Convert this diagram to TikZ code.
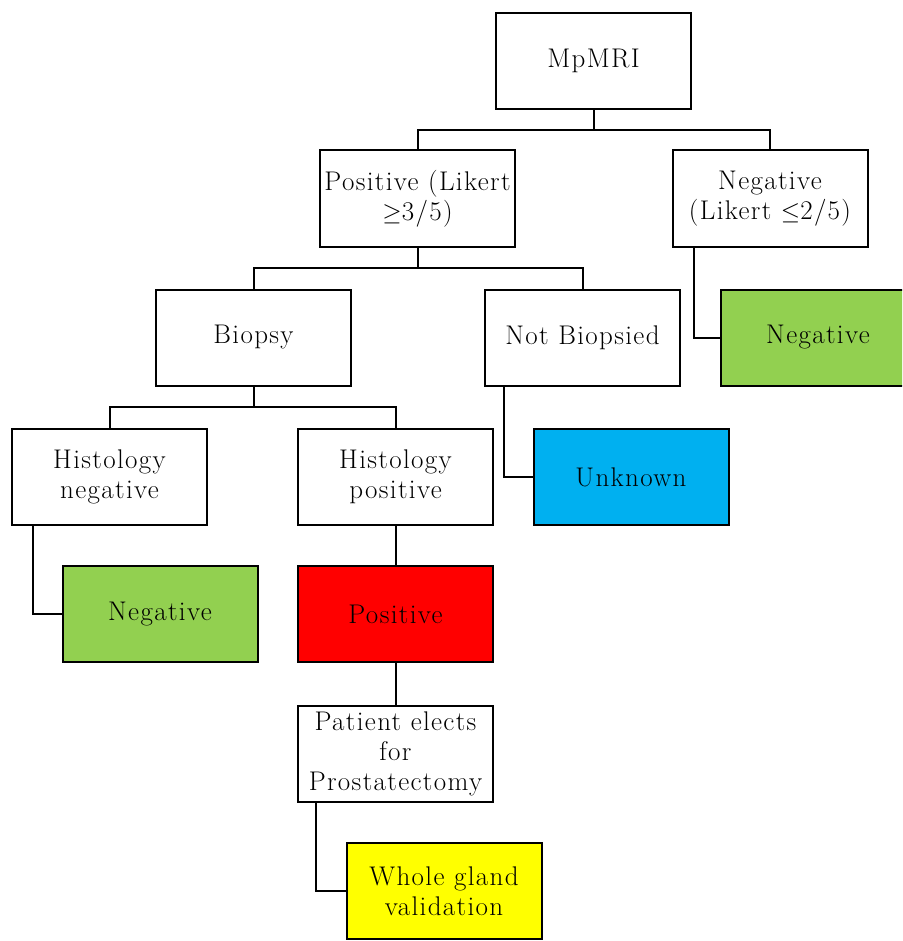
\documentclass[tikz,border=0pt]{standalone}
\usepackage{amsmath}
\usepackage{amssymb}
\usepackage{fontspec}
\usepackage{tikz}
\setmainfont{Latin Modern Roman}[LetterSpace=5]

\definecolor{boxgreen}{HTML}{92D050}
\definecolor{boxblue}{HTML}{00B0F0}
\definecolor{boxred}{HTML}{FF0000}
\definecolor{boxyellow}{HTML}{FFFF00}

\begin{document}
\begin{tikzpicture}[x=1pt,y=-1pt,
  box/.style={draw,line width=2pt,fill=white,minimum width=195pt,minimum height=96pt,
    inner sep=2pt,align=center,font=\fontsize{27}{30}\selectfont},
  link/.style={line width=2pt}]
\useasboundingbox (0,0) rectangle (902,941);
\clip (0,0) rectangle (902,941);

% Level 0
\node[box] (mri) at (593.5,61) {MpMRI};

% Level 1
\node[box] (pos) at (417.5,198.5) {Positive (Likert\\ $\geq$3/5)};
\node[box] (neglik) at (770,198.5) {Negative\\ (Likert $\leq$2/5)};

% Level 2
\node[box] (biopsy) at (253.5,337.5) {Biopsy};
\node[box] (notb) at (582.5,337.5) {Not Biopsied};
\node[box,fill=boxgreen] (negR) at (818,337.5) {Negative};

% Level 3
\node[box] (histneg) at (109.5,477) {Histology\\ negative};
\node[box] (histpos) at (395.5,477) {Histology\\ positive};
\node[box,fill=boxblue] (unknown) at (631,477) {Unknown};

% Level 4
\node[box,fill=boxgreen] (negL) at (160,614) {Negative};
\node[box,fill=boxred] (posR) at (395.5,614) {Positive};

% Level 5
\node[box] (patient) at (395.5,753.5) {Patient elects\\ for\\ Prostatectomy};

% Level 6
\node[box,fill=boxyellow] (whole) at (444,891) {Whole gland\\ validation};

% Branch points
\coordinate (j1) at (593.5,130);
\coordinate (j2) at (417.5,268);
\coordinate (j3) at (253.5,407);

% Connectors
\draw[link] (mri) -- (j1) -| (pos);
\draw[link] (j1) -| (neglik);
\draw[link] (pos) -- (j2) -| (biopsy);
\draw[link] (j2) -| (notb);
\draw[link] (biopsy) -- (j3) -| (histneg);
\draw[link] (j3) -| (histpos);
\draw[link] ([xshift=22pt]neglik.south west) |- (negR.west);
\draw[link] ([xshift=20pt]notb.south west) |- (unknown.west);
\draw[link] ([xshift=22pt]histneg.south west) |- (negL.west);
\draw[link] (histpos) -- (posR);
\draw[link] (posR) -- (patient);
\draw[link] ([xshift=19pt]patient.south west) |- (whole.west);

\end{tikzpicture}
\end{document}
